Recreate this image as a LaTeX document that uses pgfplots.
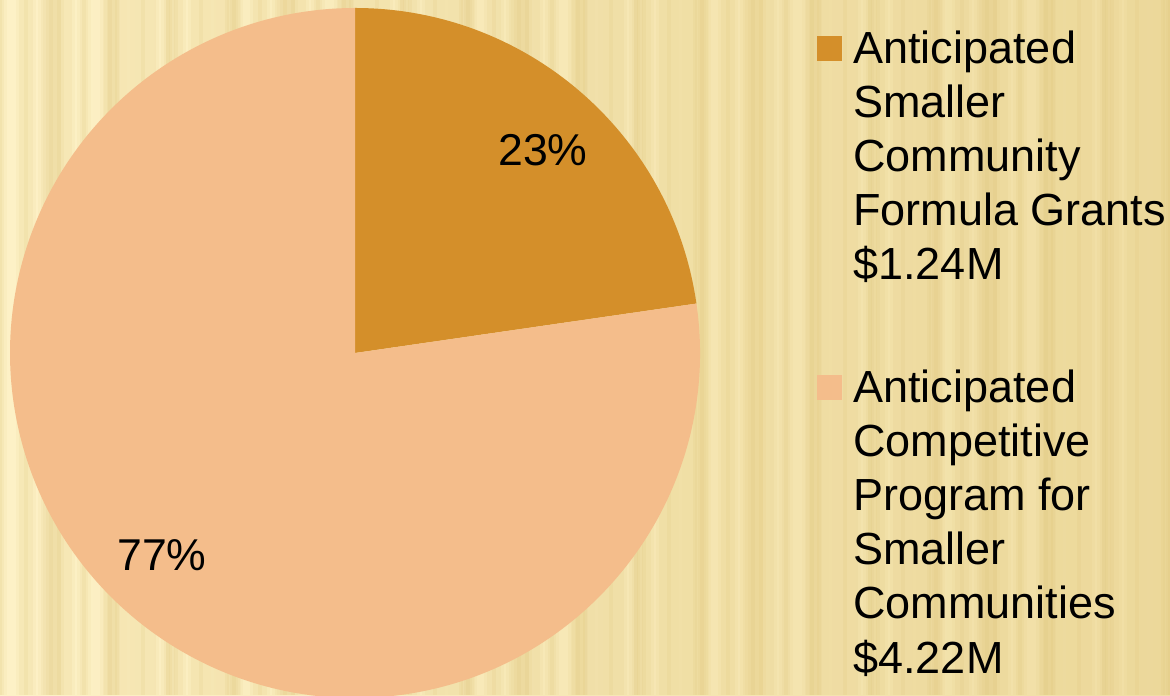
\documentclass[border=0pt]{standalone}
\usepackage{pgfplots}
\pgfplotsset{compat=1.18}
\usepackage{pgfplotstable}
\usetikzlibrary{calc}
\usepackage{fontspec}
\setmainfont{Liberation Sans}

\definecolor{darkslice}{RGB}{212,143,42}
\definecolor{lightslice}{RGB}{244,189,139}
\definecolor{bgLight}{RGB}{253,241,198}
\definecolor{bgDark}{RGB}{240,222,164}
\definecolor{stripe}{RGB}{220,192,112}

% funding, $M
\pgfplotstableread{
idx value
0 1.24
1 4.22
}\budget

\begin{document}
\begin{tikzpicture}[x=0.5pt,y=0.5pt]
\clip (0,0) rectangle (1170,695);
% background with soft vertical stripes
\shade[left color=bgLight, right color=bgDark] (0,0) rectangle (1170,695);
\foreach \i in {0,...,60} {
  \pgfmathsetmacro\xs{\i*19.5+6*mod(\i,3)}
  \pgfmathsetmacro\ws{4+3*mod(\i,4)}
  \fill[stripe, opacity=0.08] (\xs-\ws-3,0) rectangle (\xs+\ws+3,695);
  \fill[stripe, opacity=0.10] (\xs-\ws,0) rectangle (\xs+\ws,695);
  \fill[stripe, opacity=0.12] (\xs-2,0) rectangle (\xs+2,695);
}

\pgfplotstablegetelem{0}{value}\of\budget \let\va\pgfplotsretval
\pgfplotstablegetelem{1}{value}\of\budget \let\vb\pgfplotsretval
\pgfmathsetmacro\angA{360*\va/(\va+\vb)}
\pgfmathsetmacro\angB{360*\vb/(\va+\vb)}
\pgfmathsetmacro\endA{90-\angA}

\begin{axis}[
  at={(0,0)}, anchor=south west,
  x=0.5pt, y=0.5pt,
  xmin=0, xmax=1170, ymin=0, ymax=695,
  hide axis, clip=false,
]
  \fill[darkslice] (axis cs:355,342) -- (axis cs:355,687)
    arc[start angle=90, delta angle=-\angA, radius=345] -- cycle;
  \fill[lightslice] (axis cs:355,342) -- ($(axis cs:355,342)+(\endA:345)$)
    arc[start angle=\endA, delta angle=-\angB, radius=345] -- cycle;
  \node[font=\fontsize{22.3pt}{27pt}\selectfont] at (axis cs:543,545) {23\%};
  \node[font=\fontsize{22.3pt}{27pt}\selectfont] at (axis cs:162,140) {77\%};
\end{axis}

% legend
\fill[darkslice] (817,634) rectangle (842,659);
\fill[lightslice] (817,295) rectangle (842,320);
\begin{scope}[every node/.style={anchor=base west, inner sep=0pt,
    font=\fontsize{22.5pt}{27pt}\selectfont}]
  \node at (853,631) {Anticipated};
  \node at (853,577) {Smaller};
  \node at (853,523) {Community};
  \node at (853,469) {Formula Grants};
  \node at (853,415) {\$1.24M};
  \node at (853,292) {Anticipated};
  \node at (853,238) {Competitive};
  \node at (853,184) {Program for};
  \node at (853,130) {Smaller};
  \node at (853,76) {Communities};
  \node at (853,22) {\$4.22M};
\end{scope}
\end{tikzpicture}
\end{document}
